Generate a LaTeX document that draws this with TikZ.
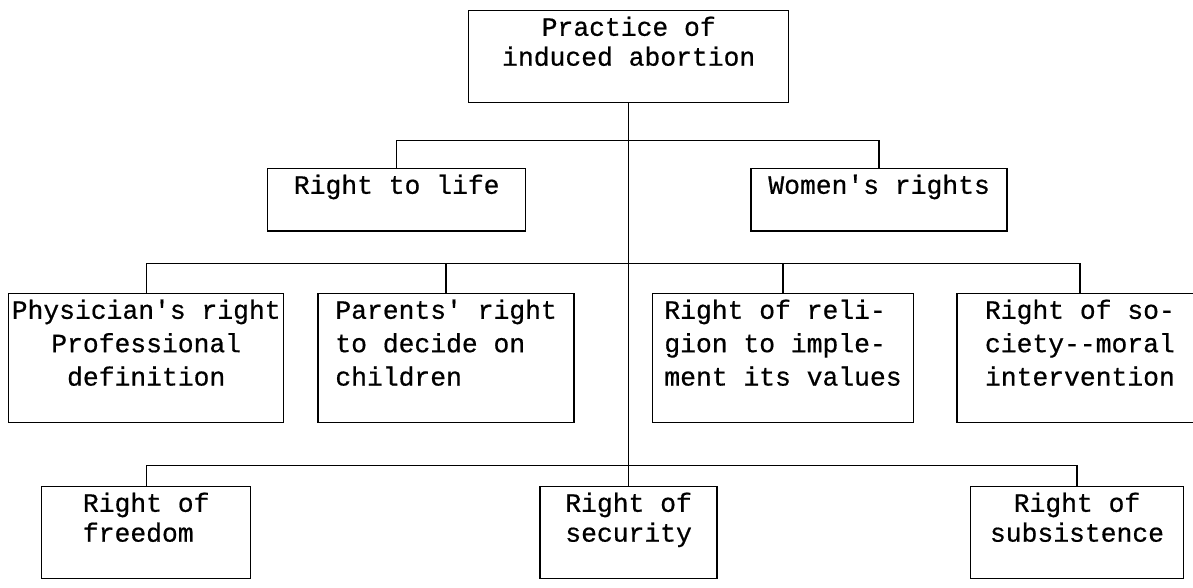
\documentclass[tikz,border=0pt]{standalone}
\usepackage{fontspec}
\setmonofont{Liberation Mono}[FakeBold=0.6]
\usetikzlibrary{positioning}

\begin{document}
\begin{tikzpicture}[line width=0.8pt,
      box/.style={rectangle,draw=black,anchor=north west,inner xsep=0.04cm,
        inner ysep=0.12cm,text depth=0.62cm,minimum width=#1},
      big/.style={font=\ttfamily\fontsize{15pt}{17pt}\selectfont},
      small/.style={font=\ttfamily\fontsize{15pt}{19pt}\selectfont}]
\useasboundingbox (0,0) rectangle (23.86,-11.76);
\node (top) [box=6.4cm,big,align=center] at (9.36,-0.2) {Practice of\\induced abortion};
% first level
\node (life) [box=5.16cm,big] at (5.34,-3.36) {Right to life};
\node (women) [box=5.12cm,big,right=4.48cm of life.north east,anchor=north west] {Women's rights};
% second level
\node (phys) [box=5.5cm,small,align=center] at (0.16,-5.86) {Physician's right\\Professional\\definition};
\node (parents) [box=5.12cm,small,align=left,right=0.66cm of phys.north east,anchor=north west] {Parents' right\\to decide on\\children};
\node (religion) [box=5.22cm,small,align=left,right=1.54cm of parents.north east,anchor=north west] {Right of reli-\\gion to imple-\\ment its values};
\node (society) [box=4.92cm,small,align=left,right=0.84cm of religion.north east,anchor=north west] {Right of so-\\ciety-{}-moral\\intervention};
% third level
\node (freedom) [box=4.18cm,big,align=left] at (0.82,-9.72) {Right of\\freedom};
\node (security) [box=3.54cm,big,align=left,right=5.76cm of freedom.north east,anchor=north west] {Right of\\security};
\node (subsist) [box=4.26cm,big,align=center,right=5.04cm of security.north east,anchor=north west] {Right of\\subsistence};
\coordinate (j1) at ([yshift=-0.74cm]top.south);
\coordinate (j2) at ([yshift=-3.2cm]top.south);
\coordinate (j3) at ([yshift=-7.24cm]top.south);
\draw (top.south) -- (top.south |- security.north);
\draw (life.north) |- (j1) -| (women.north);
\draw (phys.north) |- (j2) -| (society.north);
\draw (parents.north) -- (parents.north |- j2);
\draw (religion.north) -- (religion.north |- j2);
\draw (freedom.north) |- (j3) -| (subsist.north);
\end{tikzpicture}
\end{document}
